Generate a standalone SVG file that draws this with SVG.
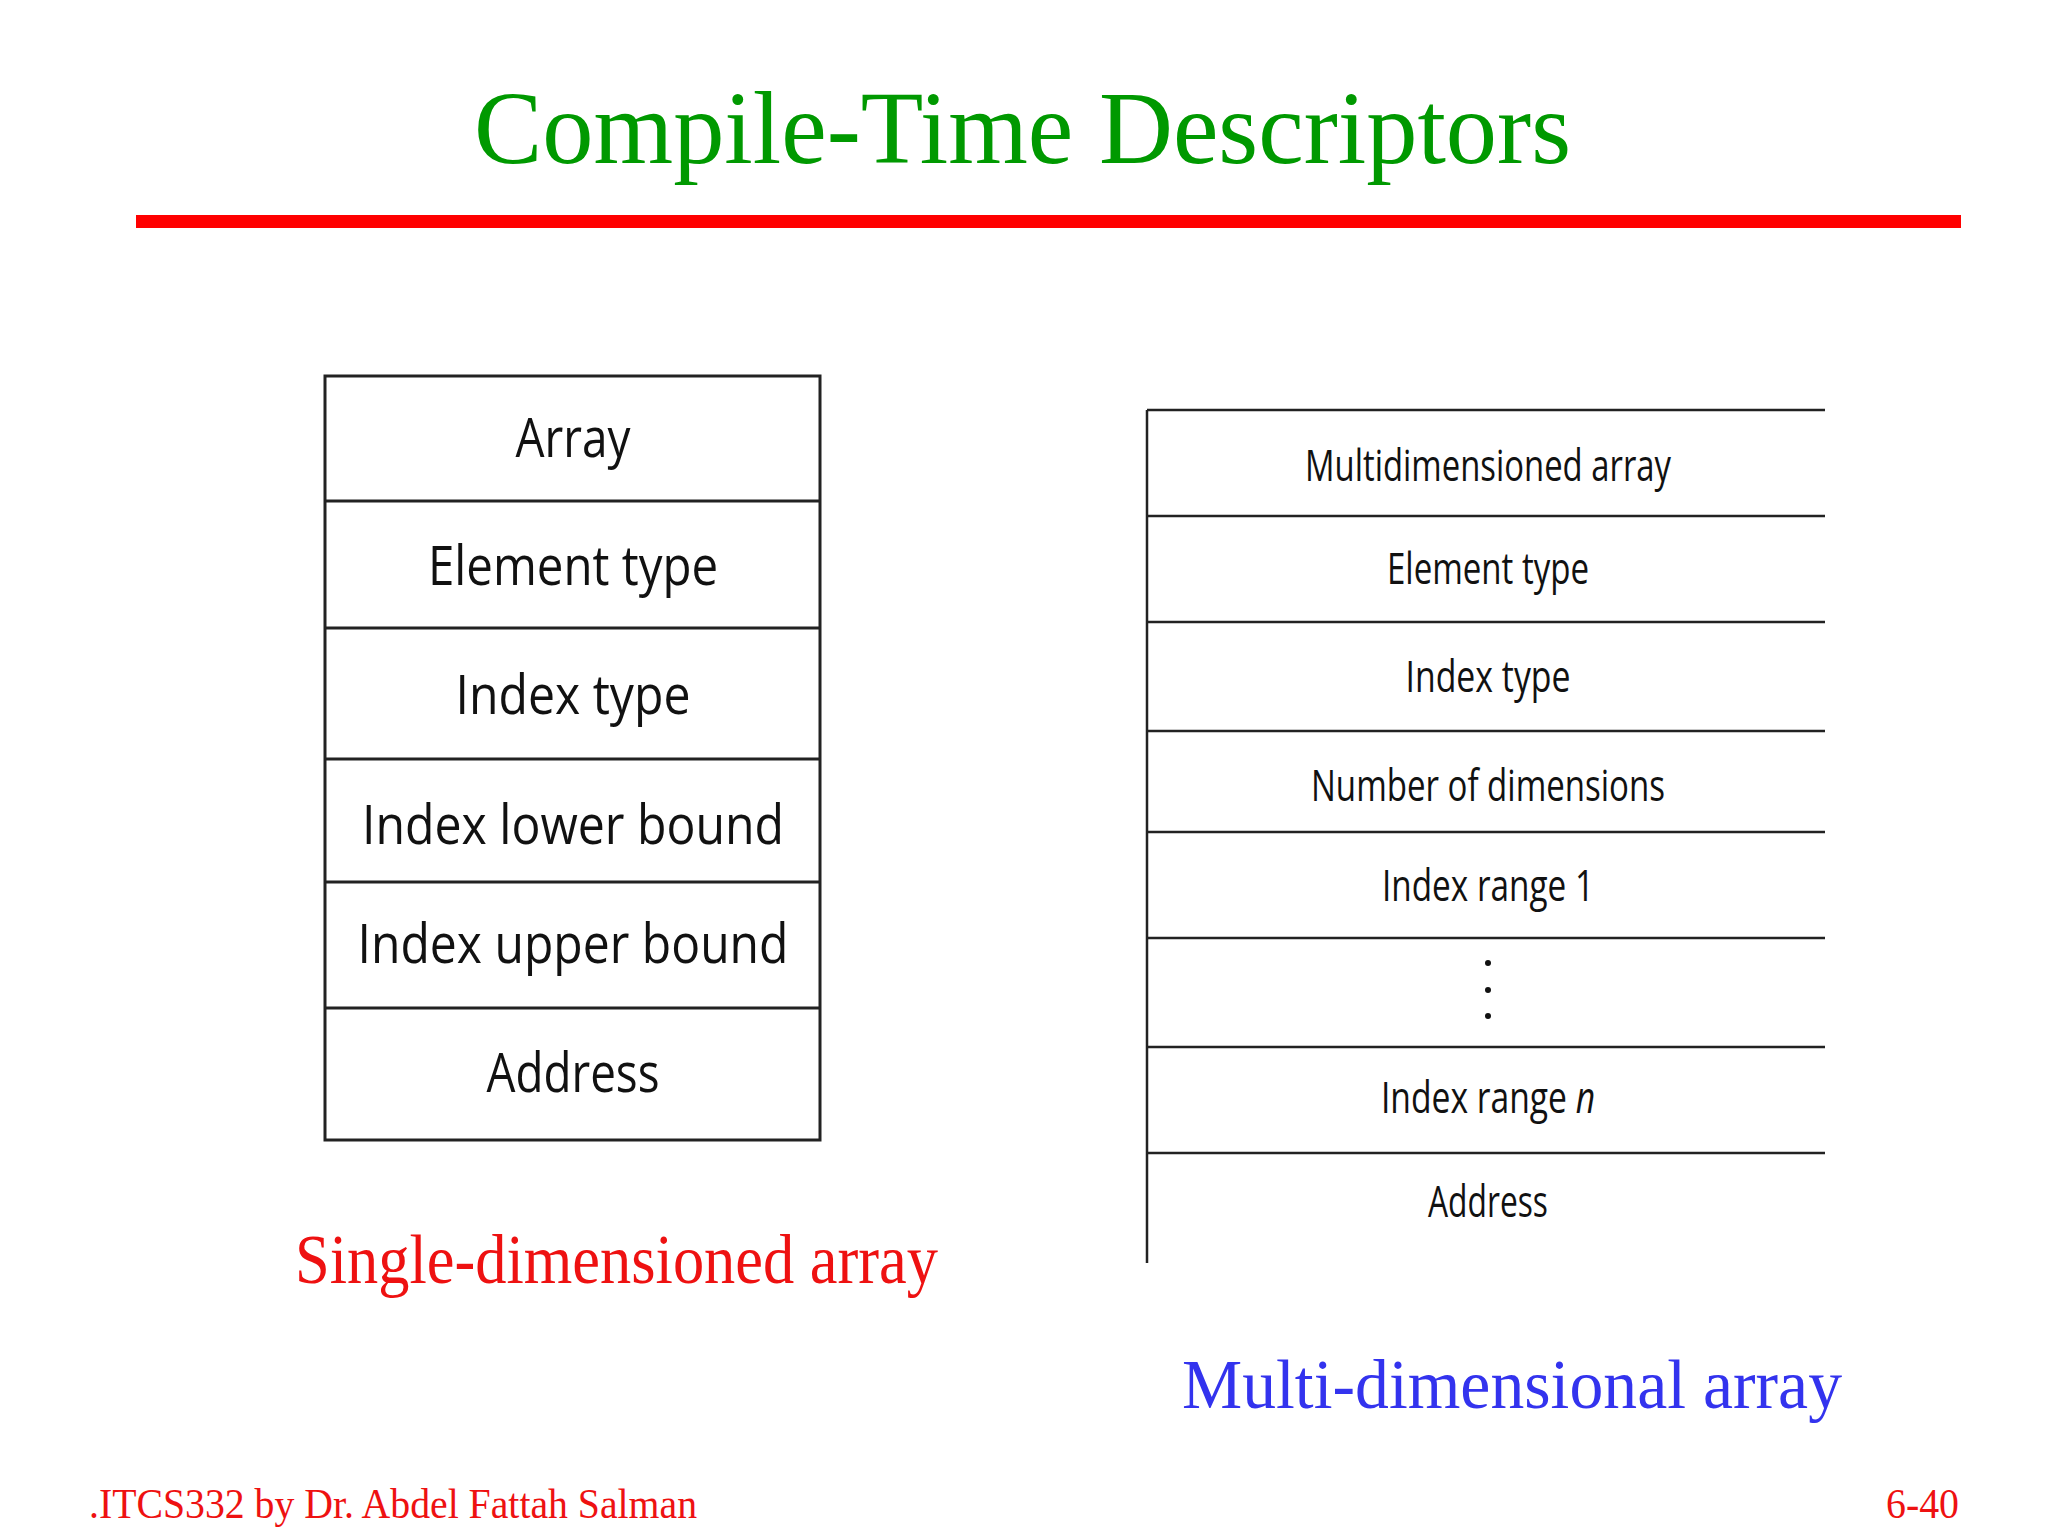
<svg xmlns="http://www.w3.org/2000/svg" width="2048" height="1536" viewBox="0 0 2048 1536">
<style>
.title{font-family:"Liberation Serif",serif;font-size:104px;fill:#009900}
.cap{font-family:"Liberation Serif",serif;font-size:70px}
.foot{font-family:"Liberation Serif",serif;font-size:42px;fill:#ee1111}
.lt{font-family:"Open Sans","Noto Sans",sans-serif;font-size:54px;fill:#111;text-anchor:middle}
.rt{font-family:"Open Sans","Noto Sans",sans-serif;font-size:44px;fill:#111;text-anchor:middle}
.lline{stroke:#222;stroke-width:3;fill:none}
.rline{stroke:#222;stroke-width:2.5;fill:none}
</style>
<rect width="2048" height="1536" fill="#ffffff"/>
<text class="title" x="474" y="163" textLength="1097" lengthAdjust="spacingAndGlyphs">Compile-Time Descriptors</text>
<rect x="136" y="215" width="1825" height="13" fill="#ff0000"/>

<g id="single-table">
<rect class="lline" x="325" y="376" width="495" height="764"/>
<g class="lline">
<line x1="325" y1="501" x2="820" y2="501"/>
<line x1="325" y1="628" x2="820" y2="628"/>
<line x1="325" y1="759" x2="820" y2="759"/>
<line x1="325" y1="882" x2="820" y2="882"/>
<line x1="325" y1="1008" x2="820" y2="1008"/>
</g>
<text class="lt" x="573" y="457" textLength="115" lengthAdjust="spacingAndGlyphs">Array</text>
<text class="lt" x="573" y="585" textLength="290" lengthAdjust="spacingAndGlyphs">Element type</text>
<text class="lt" x="573" y="714" textLength="235" lengthAdjust="spacingAndGlyphs">Index type</text>
<text class="lt" x="573" y="844" textLength="422" lengthAdjust="spacingAndGlyphs">Index lower bound</text>
<text class="lt" x="573" y="963" textLength="431" lengthAdjust="spacingAndGlyphs">Index upper bound</text>
<text class="lt" x="573" y="1092" textLength="173" lengthAdjust="spacingAndGlyphs">Address</text>
</g>

<g id="multi-table">
<g class="rline">
<line x1="1147" y1="410" x2="1147" y2="1263"/>
<line x1="1147" y1="410" x2="1825" y2="410"/>
<line x1="1147" y1="516" x2="1825" y2="516"/>
<line x1="1147" y1="622" x2="1825" y2="622"/>
<line x1="1147" y1="731" x2="1825" y2="731"/>
<line x1="1147" y1="832" x2="1825" y2="832"/>
<line x1="1147" y1="938" x2="1825" y2="938"/>
<line x1="1147" y1="1047" x2="1825" y2="1047"/>
<line x1="1147" y1="1153" x2="1825" y2="1153"/>
</g>
<text class="rt" x="1488" y="481" textLength="366" lengthAdjust="spacingAndGlyphs">Multidimensioned array</text>
<text class="rt" x="1488" y="584" textLength="202" lengthAdjust="spacingAndGlyphs">Element type</text>
<text class="rt" x="1488" y="692" textLength="165" lengthAdjust="spacingAndGlyphs">Index type</text>
<text class="rt" x="1488" y="801" textLength="354" lengthAdjust="spacingAndGlyphs">Number of dimensions</text>
<text class="rt" x="1488" y="901" textLength="212" lengthAdjust="spacingAndGlyphs">Index range 1</text>
<g fill="#111">
<circle cx="1488" cy="963" r="3"/>
<circle cx="1488" cy="990" r="3"/>
<circle cx="1488" cy="1016" r="3"/>
</g>
<text class="rt" transform="translate(1488 1113) scale(0.765 1)">Index range <tspan font-style="italic">n</tspan></text>
<text class="rt" x="1488" y="1217" textLength="120" lengthAdjust="spacingAndGlyphs">Address</text>
</g>

<text class="cap" x="295" y="1283" fill="#ee1111" textLength="643" lengthAdjust="spacingAndGlyphs">Single-dimensioned array</text>
<text class="cap" x="1182" y="1408" fill="#3333ee" textLength="660" lengthAdjust="spacingAndGlyphs">Multi-dimensional array</text>
<text class="foot" x="89" y="1518" textLength="608" lengthAdjust="spacingAndGlyphs">.ITCS332 by Dr. Abdel Fattah Salman</text>
<text class="foot" x="1886" y="1518" textLength="73" lengthAdjust="spacingAndGlyphs" fill="#e03a1a">6-40</text>
</svg>
